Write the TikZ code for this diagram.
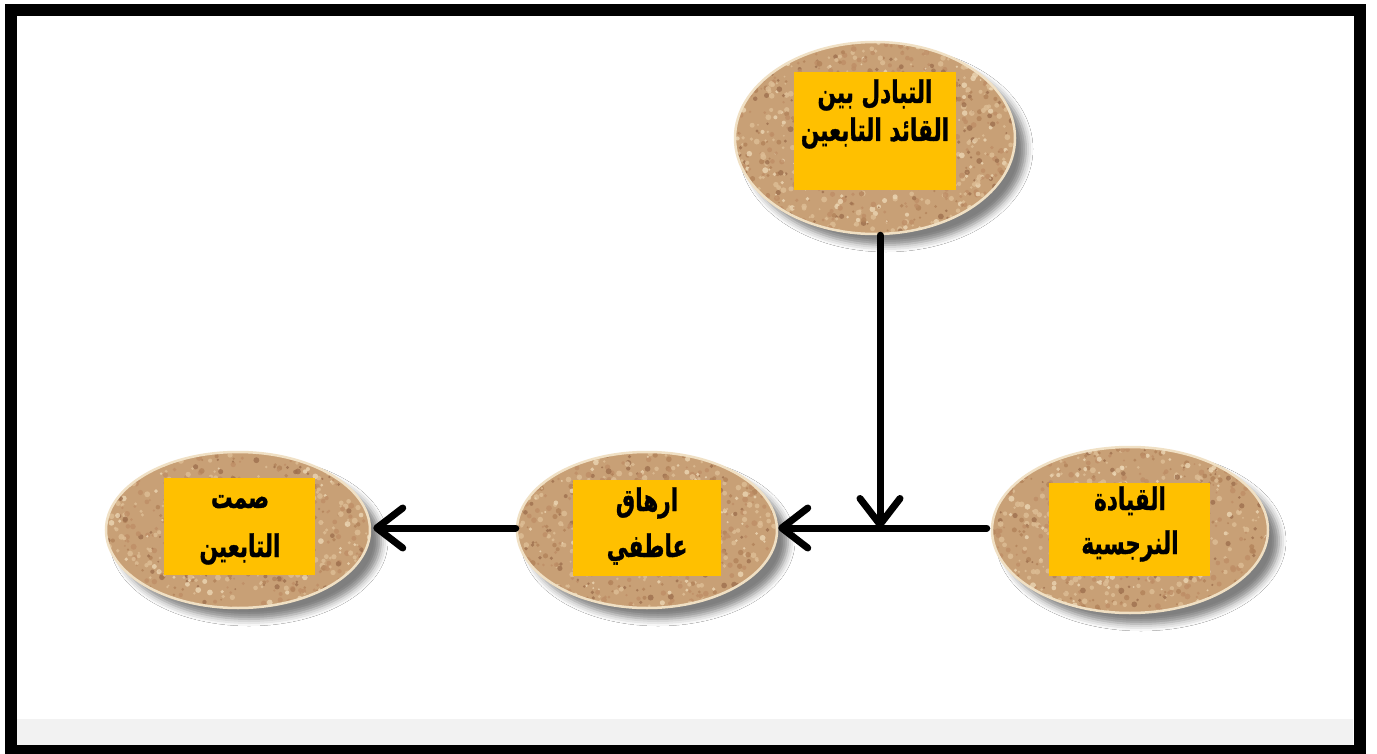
\documentclass[tikz,border=0pt]{standalone}
\usepackage{fontspec}
\usetikzlibrary{shapes.geometric,arrows.meta,shadows.blur}
\TeXXeTstate=1
\newfontfamily\arabicfont[Script=Arabic, BoldFeatures={FakeBold=1.2}]{DejaVu Sans}
\definecolor{sandbase}{RGB}{200,160,118}
\definecolor{sandA}{RGB}{222,190,150}
\definecolor{sandB}{RGB}{178,130,90}
\definecolor{sandC}{RGB}{236,214,180}
\definecolor{sandD}{RGB}{190,142,102}
\definecolor{sandE}{RGB}{158,112,78}
\definecolor{sandrim}{RGB}{240,224,196}
\definecolor{boxfill}{RGB}{255,192,0}
\definecolor{stripgray}{RGB}{242,242,242}
\pgfmathdeclarerandomlist{sandcols}{{sandA}{sandB}{sandC}{sandD}{sandE}{sandA}{sandD}}
\pgfmathsetseed{7}
\newcommand{\arline}[1]{\scalebox{0.72}[1.04]{\beginR #1\endR}}
\tikzset{
  sand/.style={ellipse, fill=sandbase, draw=sandrim, line width=2.5,
    blur shadow={shadow xshift=11pt, shadow yshift=-11pt, shadow blur radius=7pt, shadow opacity=50},
    path picture={
      \begin{scope}[shift={(path picture bounding box.center)}]
        \foreach \k in {1,...,1100}{
          \pgfmathrandomitem{\sandc}{sandcols}
          \pgfmathsetmacro{\px}{142*rand}
          \pgfmathsetmacro{\py}{98*rand}
          \pgfmathsetmacro{\pr}{1.0+2.0*rnd}
          \fill[\sandc, opacity=0.8] (\px,\py) circle (\pr);
        }
      \end{scope}
    }},
  labelbox/.style={rectangle, fill=boxfill, inner sep=0pt},
  txt/.style={inner sep=0pt, anchor=base, font=\arabicfont\bfseries\fontsize{30}{36}\selectfont},
  conn/.style={line width=7, black, line cap=round,
    -{Straight Barb[length=26pt, width=40pt, line cap=round, line join=round]}}
}
\begin{document}
\begin{tikzpicture}[x=1pt,y=-1pt]
\useasboundingbox (0,0) rectangle (1377,754);
\fill[white] (0,0) rectangle (1377,754);
% bottom grey strip
\fill[stripgray] (17,719) rectangle (1353,745);
% frame
\draw[line width=12, black] (11,10) rectangle (1359.5,751);

% ellipses
\node[sand, minimum width=280, minimum height=192] (top) at (875,138) {};
\node[sand, minimum width=276, minimum height=166] (right) at (1130,530) {};
\node[sand, minimum width=260, minimum height=156] (mid) at (647,530) {};
\node[sand, minimum width=264, minimum height=156] (left) at (238,530) {};

% boxes
\node[labelbox, minimum width=162, minimum height=118] (topbox) at (875,131) {};
\node[labelbox, minimum width=161, minimum height=93] (rightbox) at (1129.5,529.5) {};
\node[labelbox, minimum width=148, minimum height=96] (midbox) at (647,528) {};
\node[labelbox, minimum width=151, minimum height=97] (leftbox) at (239.5,526.5) {};

% texts
\node[txt] (top1) at (875,103) {\arline{التبادل بين}};
\node[txt] (top2) at (875,141) {\arline{القائد التابعين}};
\node[txt] (right1) at (1130,510) {\arline{القيادة}};
\node[txt] (right2) at (1130,554) {\arline{النرجسية}};
\node[txt] (mid1) at (647,511) {\arline{ارهاق}};
\node[txt] (mid2) at (647,557) {\arline{عاطفي}};
\node[txt] (left1) at (240,508) {\arline{صمت}};
\node[txt] (left2) at (240,557) {\arline{التابعين}};

% connectors
\coordinate (junc) at (880,528);
\draw[conn] (junc |- top.south) -- (junc);
\draw[conn] ([xshift=-4]right.west |- junc) -- (mid.east |- junc);
\draw[conn] (mid.west |- junc) -- ([xshift=2]left.east |- junc);
\end{tikzpicture}
\end{document}
